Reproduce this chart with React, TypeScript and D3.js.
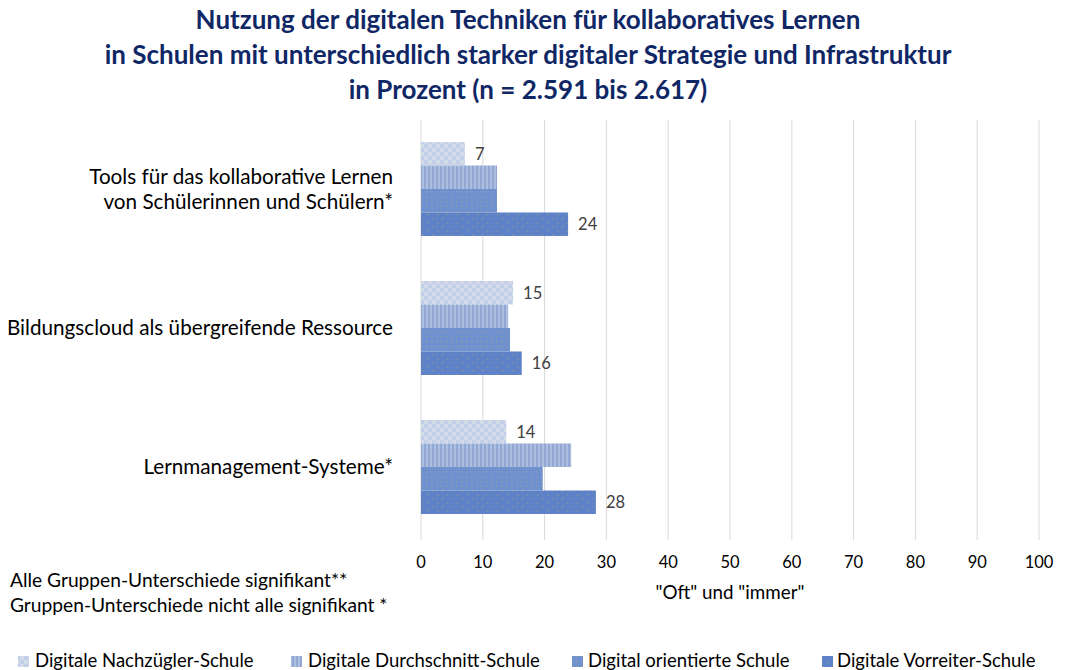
import React from "react";
import * as d3 from "d3";

const categories = [
  "Tools für das kollaborative Lernen|von Schülerinnen und Schülern*",
  "Bildungscloud als übergreifende Ressource",
  "Lernmanagement-Systeme*",
];
const seriesNames = [
  "Digitale Nachzügler-Schule",
  "Digitale Durchschnitt-Schule",
  "Digital orientierte Schule",
  "Digitale Vorreiter-Schule",
];
const nachzuegler = [7.1, 14.9, 13.8];
const durchschnitt = [12.3, 14.1, 24.3];
const orientiert = [12.3, 14.4, 19.7];
const vorreiter = [23.8, 16.3, 28.3];
const labelNachzuegler = ["7", "15", "14"];
const labelVorreiter = ["24", "16", "28"];
const xTicks = [0, 10, 20, 30, 40, 50, 60, 70, 80, 90, 100];

const series = [nachzuegler, durchschnitt, orientiert, vorreiter];
const font = "Lato, 'Open Sans', sans-serif";

export default function App() {
  const W = 1085, H = 670;
  const x = d3.scaleLinear().domain([0, 100]).range([421, 1039]);
  const y0 = d3.scaleBand<number>().domain([0, 1, 2]).range([119.5, 536.5]).paddingInner(0.324).paddingOuter(0.162);
  const y1 = d3.scaleBand<number>().domain([0, 1, 2, 3]).range([0, y0.bandwidth()]);
  const fills = ["url(#p0)", "url(#p1)", "url(#p2)", "url(#p3)"];
  const legendX = [18, 291, 572, 822];
  const legendTextX = [35, 308, 588, 837];

  return (
    <svg width={W} height={H} style={{ position: "absolute", left: 0, top: 0 }} fontFamily={font}>
      <defs>
        <pattern id="p0" width="8" height="8" patternUnits="userSpaceOnUse">
          <rect width="8" height="8" fill="#d3dbe8" />
          <rect width="4" height="4" fill="#c2cfe8" />
          <rect x="4" y="4" width="4" height="4" fill="#c2cfe8" />
        </pattern>
        <pattern id="p1" width="4" height="4" patternUnits="userSpaceOnUse">
          <rect width="4" height="4" fill="#adbfe0" />
          <rect width="2" height="4" fill="#92a7d2" />
        </pattern>
        <pattern id="p2" width="5" height="5" patternUnits="userSpaceOnUse">
          <rect width="5" height="5" fill="#6f91d0" />
          <rect x="1" y="1" width="1.5" height="1.5" fill="#8c9ab0" />
        </pattern>
        <pattern id="p3" width="10" height="8" patternUnits="userSpaceOnUse">
          <rect width="10" height="8" fill="#5d82c8" />
          <rect x="2" y="2" width="1.5" height="1.5" fill="#8890a0" />
          <rect x="7" y="6" width="1.5" height="1.5" fill="#8890a0" />
        </pattern>
      </defs>
      <rect width={W} height={H} fill="#fff" />
      <g fill="#102766" fontWeight="bold" fontSize="26" textAnchor="middle">
        <text x={528} y={29}>Nutzung der digitalen Techniken für kollaboratives Lernen</text>
        <text x={528} y={64}>in Schulen mit unterschiedlich starker digitaler Strategie und Infrastruktur</text>
        <text x={528} y={99}>in Prozent (n =  2.591 bis 2.617)</text>
      </g>
      {xTicks.map((t) => (
        <line key={t} x1={x(t)} x2={x(t)} y1={119.5} y2={540} stroke="#d9d9d9" strokeWidth={1} />
      ))}
      {categories.map((c, i) => (
        <g key={i}>
          {series.map((s, j) => (
            <rect key={j} x={x(0)} y={y0(i)! + y1(j)!} width={x(s[i]) - x(0)} height={y1.bandwidth()} fill={fills[j]} />
          ))}
          <text x={x(nachzuegler[i]) + 10} y={y0(i)! + y1(0)! + y1.bandwidth() / 2} dy="0.35em" fontSize="16.5" fill="#404040">{labelNachzuegler[i]}</text>
          <text x={x(vorreiter[i]) + 10} y={y0(i)! + y1(3)! + y1.bandwidth() / 2} dy="0.35em" fontSize="16.5" fill="#404040">{labelVorreiter[i]}</text>
          {c.split("|").map((line, k, arr) => (
            <text key={k} x={393} y={y0(i)! + y0.bandwidth() / 2 + (k - (arr.length - 1) / 2) * 25} dy="0.35em" textAnchor="end" fontSize="20.7" fill="#000">{line}</text>
          ))}
        </g>
      ))}
      {xTicks.map((t) => (
        <text key={t} x={x(t)} y={562} dy="0.35em" textAnchor="middle" fontSize="16.5" fill="#000">{t}</text>
      ))}
      <text x={730} y={592} dy="0.35em" textAnchor="middle" fontSize="18.8" fill="#000">"Oft" und "immer"</text>
      <text x={10} y={580} dy="0.35em" fontSize="19.2" fill="#000">Alle Gruppen-Unterschiede signifikant**</text>
      <text x={10} y={605} dy="0.35em" fontSize="19.2" fill="#000">Gruppen-Unterschiede nicht alle signifikant *</text>
      {seriesNames.map((n, j) => (
        <g key={j}>
          <rect x={legendX[j]} y={656} width={11} height={11} fill={fills[j]} />
          <text x={legendTextX[j]} y={661} dy="0.35em" fontSize="18.5" fill="#000">{n}</text>
        </g>
      ))}
    </svg>
  );
}
